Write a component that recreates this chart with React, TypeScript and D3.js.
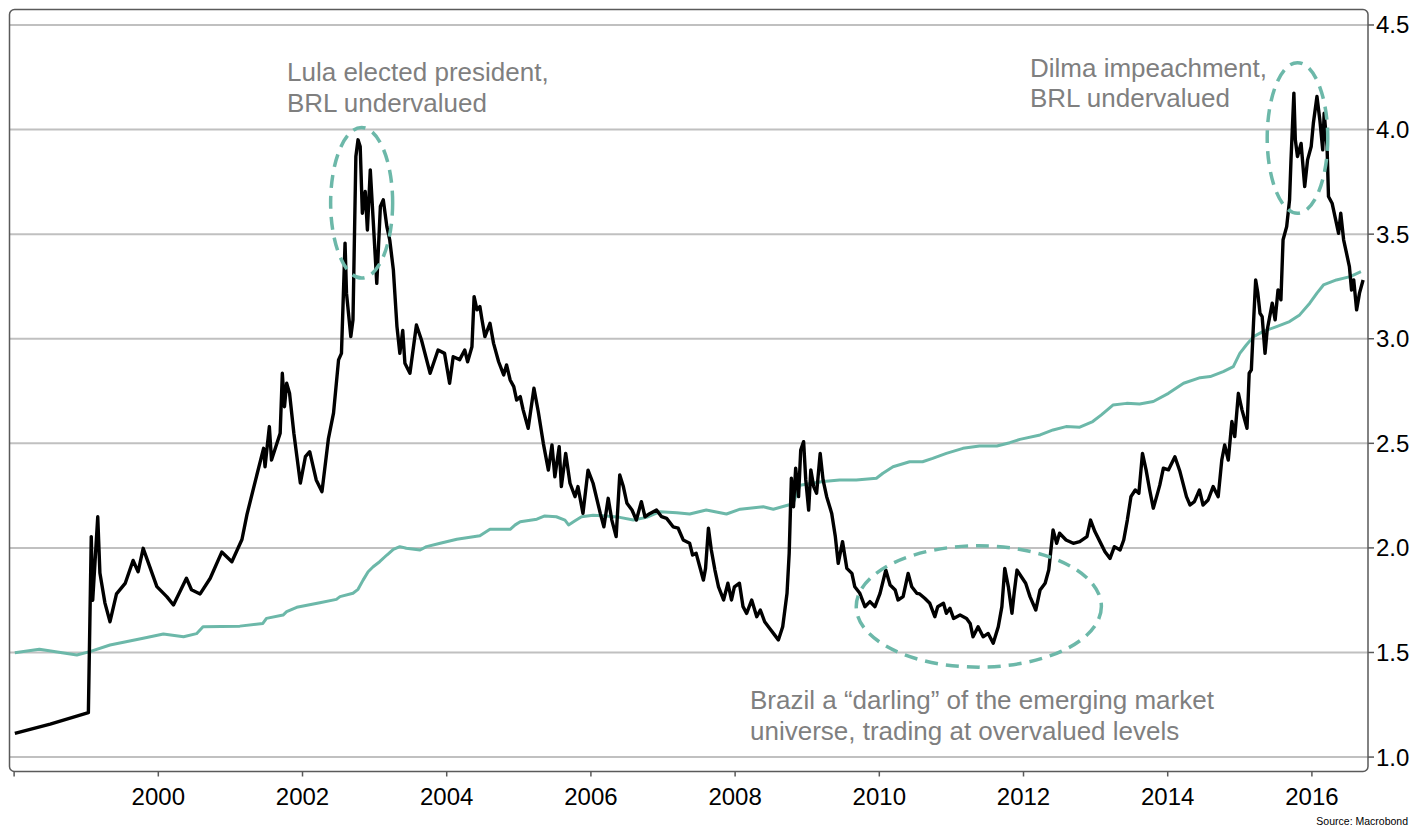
import React from "react";
import * as d3 from "d3";

// USD/BRL spot rate (decimal year, BRL per USD)
const spotYears = [
  1998.01, 1998.5, 1999.03, 1999.07, 1999.09, 1999.16, 1999.19, 1999.26, 1999.33, 1999.42,
  1999.54, 1999.65, 1999.72, 1999.79, 1999.98, 2000.12, 2000.21, 2000.39, 2000.46, 2000.58,
  2000.72, 2000.88, 2001.02, 2001.16, 2001.23, 2001.32, 2001.46, 2001.48, 2001.54, 2001.57,
  2001.69, 2001.72, 2001.75, 2001.78, 2001.82, 2001.88, 2001.97, 2002.04, 2002.1, 2002.19,
  2002.27, 2002.36, 2002.43, 2002.5, 2002.54, 2002.59, 2002.61, 2002.67, 2002.7, 2002.74,
  2002.77, 2002.8, 2002.83, 2002.87, 2002.9, 2002.94, 2002.98, 2003.03, 2003.08, 2003.12,
  2003.17, 2003.21, 2003.26, 2003.31, 2003.35, 2003.39, 2003.42, 2003.49, 2003.58, 2003.65,
  2003.77, 2003.88, 2003.97, 2004.04, 2004.09, 2004.18, 2004.25, 2004.29, 2004.35, 2004.38,
  2004.42, 2004.46, 2004.49, 2004.53, 2004.6, 2004.65, 2004.72, 2004.79, 2004.83, 2004.88,
  2004.93, 2004.97, 2005.02, 2005.06, 2005.13, 2005.21, 2005.27, 2005.34, 2005.41, 2005.46,
  2005.5, 2005.56, 2005.59, 2005.65, 2005.71, 2005.78, 2005.82, 2005.89, 2005.96, 2006.03,
  2006.13, 2006.18, 2006.24, 2006.29, 2006.35, 2006.4, 2006.45, 2006.5, 2006.57, 2006.63,
  2006.7, 2006.75, 2006.82, 2006.91, 2006.98, 2007.05, 2007.14, 2007.21, 2007.28, 2007.37,
  2007.41, 2007.46, 2007.51, 2007.56, 2007.59, 2007.63, 2007.67, 2007.72, 2007.77, 2007.84,
  2007.9, 2007.95, 2007.99, 2008.06, 2008.11, 2008.16, 2008.23, 2008.3, 2008.35, 2008.41,
  2008.48, 2008.55, 2008.6, 2008.66, 2008.72, 2008.75, 2008.78, 2008.81, 2008.84, 2008.88,
  2008.91, 2008.95, 2008.98, 2009.02, 2009.05, 2009.09, 2009.13, 2009.18, 2009.22, 2009.27,
  2009.34, 2009.39, 2009.43, 2009.49, 2009.55, 2009.62, 2009.66, 2009.73, 2009.8, 2009.87,
  2009.94, 2010.01, 2010.09, 2010.15, 2010.22, 2010.26, 2010.33, 2010.4, 2010.45, 2010.52,
  2010.56, 2010.63, 2010.7, 2010.77, 2010.81, 2010.89, 2010.93, 2010.98, 2011.03, 2011.12,
  2011.21, 2011.26, 2011.3, 2011.37, 2011.44, 2011.51, 2011.58, 2011.65, 2011.7, 2011.74,
  2011.79, 2011.84, 2011.87, 2011.91, 2011.97, 2012.03, 2012.09, 2012.17, 2012.23, 2012.3,
  2012.35, 2012.38, 2012.41, 2012.46, 2012.5, 2012.59, 2012.69, 2012.78, 2012.88, 2012.93,
  2012.99, 2013.06, 2013.13, 2013.2, 2013.26, 2013.34, 2013.39, 2013.44, 2013.49, 2013.55,
  2013.6, 2013.65, 2013.7, 2013.75, 2013.8, 2013.85, 2013.89, 2013.94, 2014.01, 2014.1,
  2014.17, 2014.26, 2014.31, 2014.37, 2014.44, 2014.49, 2014.56, 2014.63, 2014.7, 2014.75,
  2014.79, 2014.84, 2014.89, 2014.93, 2014.98, 2015.03, 2015.1, 2015.13, 2015.16, 2015.19,
  2015.22, 2015.25, 2015.28, 2015.31, 2015.35, 2015.38, 2015.45, 2015.49, 2015.53, 2015.57,
  2015.6, 2015.65, 2015.69, 2015.71, 2015.75, 2015.77, 2015.8, 2015.85, 2015.9, 2015.94,
  2015.99, 2016.02, 2016.07, 2016.11, 2016.15, 2016.17, 2016.21, 2016.23, 2016.28, 2016.33,
  2016.37, 2016.4, 2016.44, 2016.48, 2016.52, 2016.55, 2016.58, 2016.62, 2016.66, 2016.71,
];
const spotRates = [
  1.113, 1.158, 1.212, 2.054, 1.75, 2.149, 1.88, 1.736, 1.647, 1.78,
  1.83, 1.94, 1.886, 1.998, 1.815, 1.766, 1.727, 1.855, 1.8, 1.78,
  1.855, 1.98, 1.934, 2.04, 2.16, 2.285, 2.476, 2.388, 2.58, 2.42,
  2.548, 2.835, 2.675, 2.787, 2.74, 2.548, 2.31, 2.436, 2.46, 2.325,
  2.269, 2.524, 2.644, 2.899, 2.93, 3.457, 3.218, 3.01, 3.09, 3.871,
  3.951, 3.919, 3.6, 3.704, 3.52, 3.807, 3.568, 3.265, 3.632, 3.664,
  3.536, 3.472, 3.329, 3.058, 2.93, 3.04, 2.883, 2.835, 3.066, 2.994,
  2.835, 2.946, 2.93, 2.787, 2.914, 2.9, 2.946, 2.89, 2.962, 3.201,
  3.138, 3.154, 3.09, 3.01, 3.074, 2.978, 2.89, 2.827, 2.875, 2.803,
  2.771, 2.707, 2.723, 2.66, 2.572, 2.763, 2.651, 2.5, 2.372, 2.492,
  2.34, 2.484, 2.293, 2.452, 2.309, 2.245, 2.293, 2.165, 2.372, 2.309,
  2.165, 2.101, 2.237, 2.133, 2.054, 2.349, 2.293, 2.213, 2.181, 2.133,
  2.221, 2.149, 2.165, 2.181, 2.149, 2.141, 2.101, 2.094, 2.038, 2.022,
  1.966, 1.974, 1.91, 1.846, 1.902, 2.094, 1.99, 1.894, 1.814, 1.751,
  1.831, 1.751, 1.814, 1.831, 1.719, 1.687, 1.751, 1.671, 1.703, 1.647,
  1.615, 1.583, 1.56, 1.623, 1.783, 1.974, 2.333, 2.197, 2.381, 2.245,
  2.468, 2.508, 2.325, 2.181, 2.373, 2.293, 2.261, 2.452, 2.325, 2.245,
  2.165, 2.054, 1.926, 2.03, 1.902, 1.878, 1.814, 1.783, 1.719, 1.743,
  1.719, 1.783, 1.894, 1.823, 1.799, 1.751, 1.767, 1.878, 1.814, 1.783,
  1.78, 1.759, 1.735, 1.671, 1.719, 1.735, 1.687, 1.711, 1.663, 1.679,
  1.663, 1.639, 1.575, 1.623, 1.575, 1.591, 1.544, 1.623, 1.719, 1.902,
  1.814, 1.687, 1.783, 1.894, 1.862, 1.831, 1.767, 1.703, 1.799, 1.831,
  1.894, 1.99, 2.086, 2.022, 2.07, 2.038, 2.022, 2.03, 2.054, 2.133,
  2.078, 2.03, 1.982, 1.95, 2.006, 1.99, 2.038, 2.133, 2.245, 2.277,
  2.261, 2.452, 2.373, 2.277, 2.19, 2.25, 2.3, 2.381, 2.373, 2.436,
  2.365, 2.245, 2.205, 2.221, 2.277, 2.205, 2.229, 2.293, 2.245, 2.42,
  2.492, 2.42, 2.604, 2.532, 2.739, 2.66, 2.572, 2.835, 2.851, 3.074,
  3.281, 3.218, 3.122, 3.106, 2.93, 3.042, 3.17, 3.09, 3.233, 3.186,
  3.473, 3.536, 3.664, 3.855, 4.174, 3.951, 3.871, 3.934, 3.727, 3.855,
  3.919, 4.03, 4.158, 4.046, 3.903, 4.078, 3.919, 3.68, 3.648, 3.568,
  3.504, 3.6, 3.473, 3.409, 3.345, 3.233, 3.281, 3.138, 3.218, 3.281,
];

// Fair-value estimate (decimal year, BRL per USD)
const fairYears = [
  1998.01, 1998.35, 1998.87, 1999.05, 1999.33, 1999.79, 2000.07, 2000.35, 2000.53, 2000.62,
  2001.13, 2001.45, 2001.5, 2001.73, 2001.78, 2001.92, 2002.24, 2002.47, 2002.52, 2002.7,
  2002.77, 2002.84, 2002.91, 2002.98, 2003.07, 2003.17, 2003.26, 2003.35, 2003.44, 2003.63,
  2003.72, 2003.91, 2004.14, 2004.46, 2004.6, 2004.88, 2004.95, 2005.02, 2005.25, 2005.36,
  2005.52, 2005.64, 2005.69, 2005.78, 2005.87, 2006.03, 2006.21, 2006.4, 2006.59, 2006.77,
  2006.96, 2007.19, 2007.37, 2007.6, 2007.88, 2008.07, 2008.39, 2008.53, 2008.74, 2008.8,
  2008.9, 2009.22, 2009.45, 2009.68, 2009.96, 2010.05, 2010.19, 2010.42, 2010.6, 2010.74,
  2010.93, 2011.16, 2011.39, 2011.63, 2011.81, 2011.95, 2012.23, 2012.41, 2012.59, 2012.78,
  2012.96, 2013.08, 2013.24, 2013.43, 2013.61, 2013.8, 2014.01, 2014.22, 2014.45, 2014.59,
  2014.77, 2014.91, 2015.0, 2015.09, 2015.19, 2015.32, 2015.51, 2015.69, 2015.83, 2015.97,
  2016.07, 2016.16, 2016.34, 2016.53, 2016.68,
];
const fairRates = [
  1.499, 1.515, 1.488, 1.504, 1.536, 1.568, 1.588, 1.575, 1.59, 1.623,
  1.626, 1.639, 1.663, 1.679, 1.695, 1.716, 1.738, 1.754, 1.767, 1.783,
  1.802, 1.846, 1.886, 1.91, 1.934, 1.966, 1.993, 2.006, 1.998, 1.99,
  2.006, 2.022, 2.041, 2.058, 2.089, 2.089, 2.11, 2.125, 2.137, 2.153,
  2.149, 2.133, 2.11, 2.13, 2.149, 2.156, 2.153, 2.146, 2.133, 2.146,
  2.173, 2.168, 2.162, 2.181, 2.162, 2.185, 2.197, 2.185, 2.205, 2.21,
  2.3, 2.317, 2.325, 2.325, 2.333, 2.357, 2.388, 2.412, 2.412, 2.428,
  2.452, 2.476, 2.487, 2.487, 2.503, 2.519, 2.54, 2.564, 2.58, 2.577,
  2.604, 2.636, 2.683, 2.691, 2.688, 2.7, 2.739, 2.787, 2.814, 2.819,
  2.843, 2.867, 2.93, 2.97, 3.01, 3.034, 3.058, 3.082, 3.114, 3.17,
  3.218, 3.257, 3.281, 3.297, 3.321,
];

const yTicks = [1.0, 1.5, 2.0, 2.5, 3.0, 3.5, 4.0, 4.5];
const xTickYears = [1998, 2000, 2002, 2004, 2006, 2008, 2010, 2012, 2014, 2016];
const xLabelYears = [2000, 2002, 2004, 2006, 2008, 2010, 2012, 2014, 2016];

const lulaNote = ["Lula elected president,", "BRL undervalued"];
const dilmaNote = ["Dilma impeachment,", "BRL undervalued"];
const darlingNote = [
  "Brazil a \u201cdarling\u201d of the emerging market",
  "universe, trading at overvalued levels",
];
const sourceNote = "Source: Macrobond";

// Highlighted episodes: [centre year, centre rate, half-width in years, half-height in rate]
const highlightYears = [2002.82, 2015.8, 2011.38];
const highlightRates = [3.65, 3.96, 1.72];
const highlightHalfYears = [0.43, 0.42, 1.7];
const highlightHalfRates = [0.36, 0.36, 0.29];

const W = 1416;
const H = 832;
const FONT = "'Liberation Sans', Arial, Helvetica, sans-serif";
const TEAL = "#6cb8a9";
const GREY_TEXT = "#7f7f7f";

export default function App() {
  const left = 9.5;
  const right = 1368;
  const top = 9.5;
  const bottom = 771.5;

  const x = d3.scaleLinear().domain([1997.936, 2016.778]).range([left, right]);
  const y = d3.scaleLinear().domain([0.931, 4.574]).range([bottom, top]);

  const spot = spotYears.map((t, i) => [t, spotRates[i]] as [number, number]);
  const fair = fairYears.map((t, i) => [t, fairRates[i]] as [number, number]);

  const line = d3
    .line<[number, number]>()
    .x((d) => x(d[0]))
    .y((d) => y(d[1]))
    .curve(d3.curveLinear);

  return (
    <svg
      width={W}
      height={H}
      viewBox={`0 0 ${W} ${H}`}
      style={{ position: "absolute", left: 0, top: 0, background: "#fff" }}
      fontFamily={FONT}
    >
      {/* horizontal grid */}
      {yTicks.map((v) => (
        <line
          key={`g${v}`}
          x1={left}
          x2={right}
          y1={y(v)}
          y2={y(v)}
          stroke="#c0c0c0"
          strokeWidth={2}
        />
      ))}

      {/* fair value */}
      <path d={line(fair) ?? ""} fill="none" stroke={TEAL} strokeWidth={3} strokeLinejoin="round" />

      {/* spot rate */}
      <path
        d={line(spot) ?? ""}
        fill="none"
        stroke="#000"
        strokeWidth={3.4}
        strokeLinejoin="round"
      />

      {/* highlighted episodes */}
      {highlightYears.map((t, i) => {
        const cx = x(t);
        const cy = y(highlightRates[i]);
        const rx = x(t + highlightHalfYears[i]) - cx;
        const ry = cy - y(highlightRates[i] + highlightHalfRates[i]);
        return (
          <ellipse
            key={`e${i}`}
            cx={cx}
            cy={cy}
            rx={rx}
            ry={ry}
            fill="none"
            stroke={TEAL}
            strokeWidth={3.5}
            strokeDasharray="13 8"
          />
        );
      })}

      {/* frame */}
      <rect
        x={left}
        y={top}
        width={right - left}
        height={bottom - top}
        rx={5}
        fill="none"
        stroke="#5a5a5a"
        strokeWidth={1.5}
      />

      {/* right axis */}
      {yTicks.map((v) => (
        <g key={`yt${v}`}>
          <line x1={right} x2={right + 6} y1={y(v)} y2={y(v)} stroke="#5a5a5a" strokeWidth={1.5} />
          <text x={right + 8} y={y(v) + 8.5} fontSize={24} fill="#000">
            {d3.format(".1f")(v)}
          </text>
        </g>
      ))}

      {/* bottom axis */}
      {xTickYears.map((t) => (
        <line
          key={`xt${t}`}
          x1={x(t)}
          x2={x(t)}
          y1={bottom}
          y2={bottom + 5}
          stroke="#5a5a5a"
          strokeWidth={1.5}
        />
      ))}
      {xLabelYears.map((t) => (
        <text key={`xl${t}`} x={x(t)} y={805} fontSize={24} textAnchor="middle" fill="#000">
          {t}
        </text>
      ))}

      {/* notes */}
      {lulaNote.map((s, i) => (
        <text key={`l${i}`} x={287} y={81 + i * 31} fontSize={26} fill={GREY_TEXT}>
          {s}
        </text>
      ))}
      {dilmaNote.map((s, i) => (
        <text key={`d${i}`} x={1030} y={77 + i * 30} fontSize={26} fill={GREY_TEXT}>
          {s}
        </text>
      ))}
      {darlingNote.map((s, i) => (
        <text key={`b${i}`} x={750} y={709 + i * 31} fontSize={26} fill={GREY_TEXT}>
          {s}
        </text>
      ))}

      <text x={1408} y={825} fontSize={10.5} textAnchor="end" fill="#000">
        {sourceNote}
      </text>
    </svg>
  );
}
